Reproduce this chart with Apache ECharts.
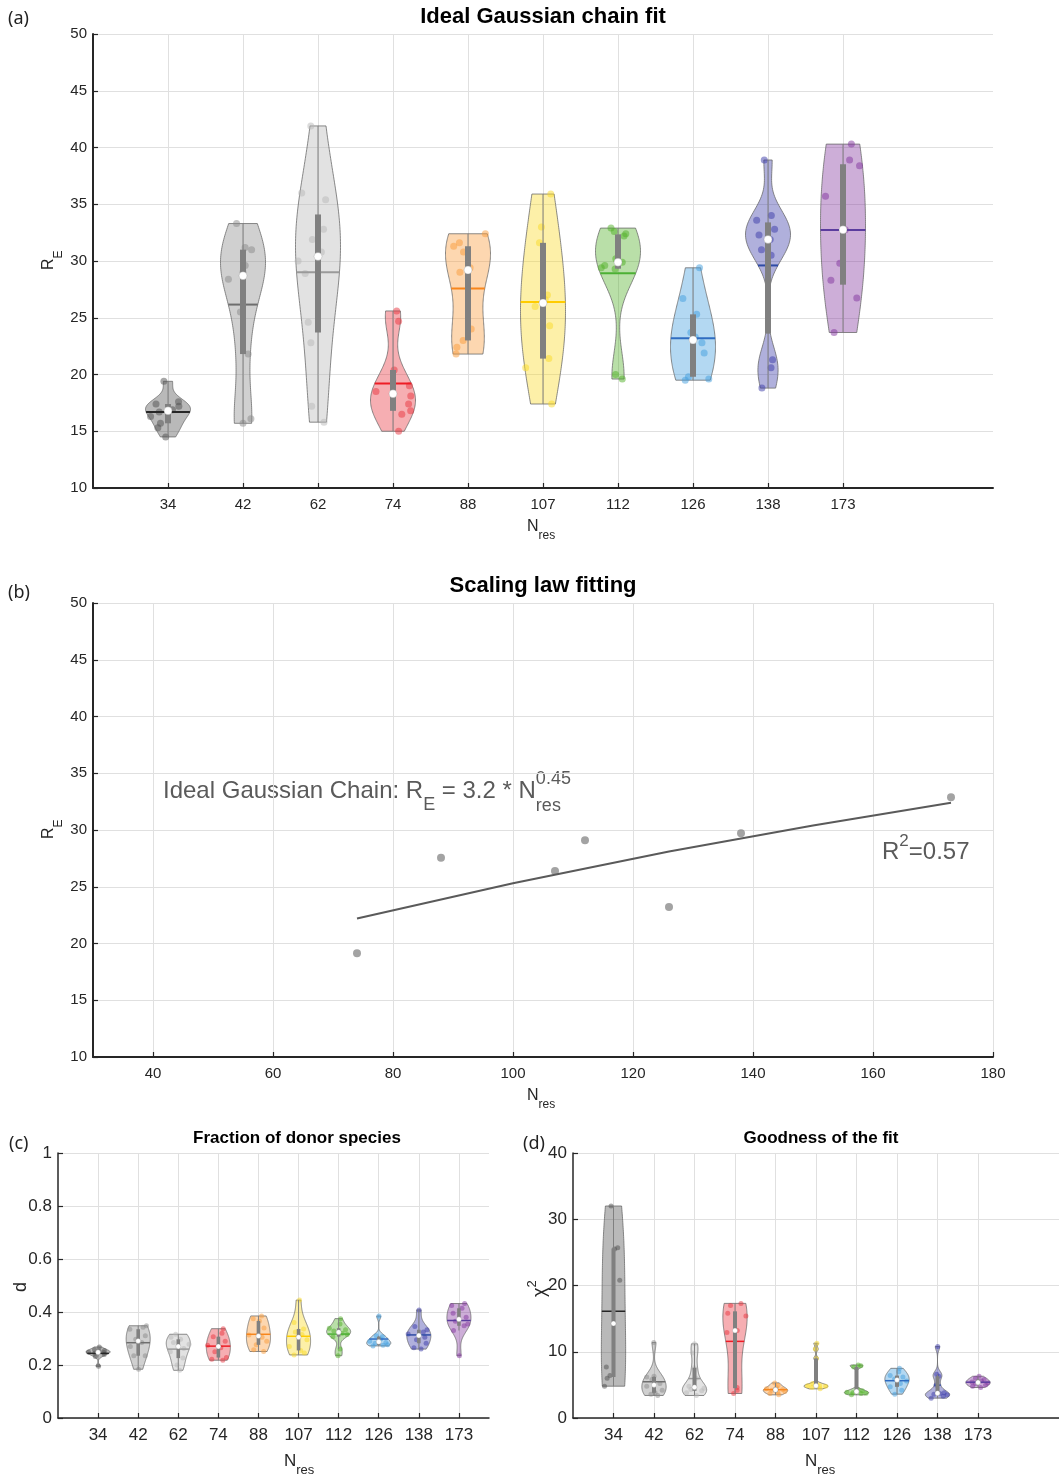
<!DOCTYPE html>
<html>
<head>
<meta charset="utf-8">
<script src="https://cdn.jsdelivr.net/npm/echarts@6/dist/echarts.min.js"></script>
<style>
  html, body { margin: 0; padding: 0; background: #fff; }
  #chart { width: 1059px; height: 1478px; }
</style>
</head>
<body>
<div id="chart"></div>
<script>
const categories = ['34', '42', '62', '74', '88', '107', '112', '126', '138', '173'];
const baseColors = ['#505050', '#8a8a8a', '#b7b7b7', '#e8343e', '#fa9b39', '#fad925', '#50af25', '#419dde', '#3939a7', '#82349d'];
const meanColors = ['#262626', '#6e6e6e', '#9a9a9a', '#ee1c25', '#f7861c', '#ffcc00', '#4cb034', '#2f6cc0', '#2e4ba5', '#5b3c9e'];

// (a) end-to-end distance R_E per N_res
const reData = [
  [14.5, 15.3, 15.7, 16.3, 16.7, 16.9, 17.2, 17.4, 17.6, 19.4],
  [15.7, 16.1, 21.8, 25.5, 28.4, 29.0, 29.6, 31.0, 31.2, 33.3],
  [15.8, 17.2, 22.8, 24.6, 28.9, 30.0, 30.8, 31.9, 32.8, 35.4, 36.0, 41.9],
  [15.0, 16.5, 16.8, 17.4, 18.1, 18.5, 19.0, 20.4, 24.7, 25.6],
  [21.8, 22.4, 23.0, 24.0, 29.0, 29.4, 30.8, 31.3, 31.6, 32.4],
  [17.4, 20.6, 21.4, 24.3, 26.0, 26.6, 27.0, 31.6, 33.0, 35.9],
  [19.6, 20.0, 29.3, 29.4, 29.6, 29.9, 30.2, 32.2, 32.4, 32.6, 32.9],
  [19.5, 19.6, 19.8, 21.9, 22.8, 23.3, 23.7, 25.3, 26.7, 29.4],
  [18.8, 20.6, 21.3, 30.5, 31.0, 31.9, 32.3, 32.8, 33.6, 34.0, 38.9],
  [23.7, 26.75, 28.3, 29.8, 32.75, 35.7, 38.4, 38.9, 40.3]
];
const reJitter = [
  [-0.3, -0.8, -0.5, -0.9, -0.4, 0.2, 0.5, -0.6, 0.6, -0.9],
  [0.0, 0.9, 0.7, -0.2, -0.7, 0.0, 0.1, 0.4, 0.1, -0.45],
  [0.7, -0.65, -0.5, -0.6, -0.6, -0.9, 0.15, -0.25, 0.25, 0.4, -0.9, -0.9],
  [0.5, 0.45, 0.85, 0.7, 0.8, -0.8, 0.85, 0.1, 0.75, 0.5],
  [-0.8, -0.7, -0.3, 0.2, -0.4, 0.1, -0.2, -0.65, -0.4, 0.9],
  [0.7, -0.95, 0.3, 0.3, -0.35, 0.1, 0.2, -0.2, -0.1, 0.7],
  [0.7, -0.4, -0.15, -0.85, -0.65, 0.2, -0.1, 0.3, 0.4, -0.2, -0.4],
  [-0.45, 0.9, -0.25, 0.5, 0.4, 0.1, -0.1, 0.2, -0.7, 0.85],
  [-0.8, 0.3, 0.5, 0.2, -0.35, 0.1, -0.4, 0.3, -0.6, 0.2, -0.9],
  [-0.65, 0.75, -0.6, -0.15, 0.1, -0.8, 0.85, 0.35, 0.5]
];

// (b) scaling law: mean R_E and fitted curve
const fitN = [74, 88, 107, 112, 126, 138, 173];
const fitRE = [19.14, 27.56, 26.39, 29.09, 23.22, 29.71, 32.88];
const lawN = [74, 100, 126, 150, 173];
const lawRE = [22.2, 25.3, 28.1, 30.4, 32.4];
const xTicksB = [40, 60, 80, 100, 120, 140, 160, 180];

// (c) fraction of donor species d
const dData = [
  [0.195, 0.232, 0.240, 0.244, 0.247, 0.249, 0.252, 0.255, 0.258, 0.268],
  [0.184, 0.235, 0.235, 0.27, 0.285, 0.297, 0.31, 0.335, 0.342, 0.348],
  [0.18, 0.20, 0.226, 0.25, 0.262, 0.278, 0.285, 0.297, 0.305, 0.316],
  [0.218, 0.222, 0.228, 0.25, 0.265, 0.275, 0.29, 0.307, 0.32, 0.337],
  [0.251, 0.258, 0.276, 0.29, 0.305, 0.313, 0.34, 0.366, 0.375, 0.385],
  [0.238, 0.245, 0.255, 0.27, 0.295, 0.315, 0.325, 0.336, 0.36, 0.445],
  [0.235, 0.26, 0.307, 0.315, 0.32, 0.328, 0.333, 0.339, 0.355, 0.375],
  [0.272, 0.275, 0.276, 0.282, 0.285, 0.29, 0.298, 0.307, 0.31, 0.385],
  [0.26, 0.265, 0.282, 0.295, 0.305, 0.317, 0.325, 0.333, 0.345, 0.408],
  [0.235, 0.33, 0.348, 0.355, 0.365, 0.38, 0.395, 0.414, 0.425, 0.432]
];
const dJitter = [
  [0.2, -0.6, 0.7, -0.3, 0.5, -0.8, 0.1, 0.6, -0.4, 0.3],
  [0.1, -0.5, 0.8, -0.7, 0.3, -0.2, 0.6, -0.8, 0.5, 0.9],
  [0.3, -0.2, 0.6, -0.8, 0.5, 0.9, -0.4, 0.2, -0.7, -0.3],
  [0.5, -0.7, 0.8, -0.3, 0.2, -0.9, 0.6, -0.5, 0.4, 0.7],
  [0.6, -0.5, -0.2, 0.7, 0.3, -0.8, 0.5, 0.1, -0.6, 0.4],
  [-0.5, 0.6, 0.2, -0.8, 0.7, 0.3, -0.3, 0.5, -0.6, 0.4],
  [-0.2, 0.5, -0.7, 0.8, 0.3, -0.4, 0.6, -0.9, 0.2, 0.5],
  [-0.6, 0.4, 0.8, -0.3, 0.6, -0.8, 0.2, 0.5, -0.4, 0.1],
  [0.3, -0.6, 0.7, -0.2, 0.5, -0.9, 0.4, 0.8, -0.5, 0.1],
  [0.2, -0.7, 0.5, 0.8, -0.3, 0.6, -0.5, 0.3, -0.8, 0.7]
];

// (d) goodness of the fit chi^2
const chiData = [
  [4.8, 6.0, 6.4, 7.7, 20.8, 25.5, 25.7, 32.0],
  [3.4, 3.6, 3.8, 4.2, 4.8, 5.2, 5.8, 6.2, 6.3, 11.4],
  [3.4, 3.8, 4.1, 4.3, 4.5, 4.8, 6.0, 7.6, 9.8, 11.2],
  [3.7, 4.2, 4.6, 12.9, 13.2, 15.4, 15.8, 17.0, 17.3],
  [3.5, 3.7, 3.9, 4.0, 4.2, 4.3, 4.4, 4.6, 4.9, 5.3],
  [4.4, 4.6, 4.8, 4.85, 4.85, 4.9, 5.2, 9.0, 10.4, 11.3],
  [3.5, 3.7, 3.75, 3.8, 3.9, 4.1, 4.3, 7.7, 7.9, 8.0],
  [3.6, 4.2, 4.7, 5.2, 5.6, 5.9, 6.2, 6.4, 7.0, 7.5],
  [3.0, 3.3, 3.5, 3.6, 3.7, 3.8, 5.0, 6.3, 6.6, 10.8],
  [4.6, 4.8, 5.0, 5.2, 5.3, 5.45, 5.6, 5.8, 6.0, 6.3]
];
const chiJitter = [
  [-0.8, -0.55, -0.3, -0.6, 0.55, 0.1, 0.4, -0.3],
  [0.4, -0.3, 0.1, 0.7, -0.6, 0.5, -0.2, -0.8, 0.0, -0.1],
  [0.2, -0.7, 0.6, -0.3, 0.8, -0.5, 0.3, -0.1, -0.6, 0.0],
  [-0.2, 0.3, 0.3, -0.75, 0.2, 0.9, -0.6, -0.4, 0.55],
  [0.5, -0.6, 0.2, 0.8, -0.3, 0.6, -0.8, 0.1, 0.4, -0.2],
  [0.6, -0.4, 0.8, -0.7, 0.3, 0.1, -0.5, 0.2, -0.3, 0.4],
  [-0.6, 0.4, 0.8, -0.3, -0.8, 0.6, 0.2, -0.5, 0.7, 0.3],
  [-0.4, 0.6, -0.7, 0.3, 0.8, -0.2, 0.5, -0.6, 0.2, 0.4],
  [-0.7, 0.5, 0.8, -0.3, 0.2, 0.6, -0.4, 0.3, -0.2, 0.1],
  [0.4, -0.6, 0.7, -0.2, 0.8, -0.5, 0.3, 0.6, -0.3, 0.2]
];

const FONT = '"Liberation Sans", Arial, sans-serif';
const INK = '#262626';

function rgba(hex, a) {
  const n = parseInt(hex.slice(1), 16);
  return `rgba(${(n >> 16) & 255},${(n >> 8) & 255},${n & 255},${a})`;
}

// matlab-style quantile (midpoint rule)
function quantile(s, p) {
  const n = s.length;
  const pos = p * n + 0.5;
  if (pos <= 1) return s[0];
  if (pos >= n) return s[n - 1];
  const i = Math.floor(pos);
  return s[i - 1] + (pos - i) * (s[i] - s[i - 1]);
}

// kernel density like ksdensity defaults, clipped to data range
function violinStats(vals) {
  const s = vals.slice().sort((a, b) => a - b);
  const n = s.length;
  const med = quantile(s, 0.5);
  const mad = quantile(s.map(v => Math.abs(v - med)).sort((a, b) => a - b), 0.5);
  let sig = mad / 0.6745;
  if (sig <= 0) sig = s[n - 1] - s[0];
  const bw = sig * Math.pow(4 / (3 * n), 0.2);
  const lo = s[0], hi = s[n - 1];
  const ys = [], ds = [];
  for (let k = 0; k <= 100; k++) {
    const y = lo + (hi - lo) * k / 100;
    let d = 0;
    s.forEach(v => { const z = (y - v) / bw; d += Math.exp(-0.5 * z * z); });
    ys.push(y); ds.push(d);
  }
  const dmax = Math.max(...ds);
  const w = ds.map(d => d / dmax);
  const at = y => {
    if (y <= lo) return w[0];
    if (y >= hi) return w[100];
    const t = (y - lo) / (hi - lo) * 100;
    const k = Math.floor(t);
    return w[k] + (t - k) * (w[k + 1] - w[k]);
  };
  const q1 = quantile(s, 0.25), q3 = quantile(s, 0.75);
  const iqr = q3 - q1;
  let lw = q1 - 1.5 * iqr; lw = Math.max(lw, Math.min(...s.filter(v => v >= lw)));
  let uw = q3 + 1.5 * iqr; uw = Math.min(uw, Math.max(...s.filter(v => v <= uw)));
  const mean = s.reduce((a, b) => a + b, 0) / n;
  return { s, ys, w, at, med, q1, q3, lw, uw, mean };
}

function violinSeries(sets, jitters, axisIndex, opt) {
  const stats = sets.map(violinStats);
  return {
    type: 'custom',
    xAxisIndex: axisIndex,
    yAxisIndex: axisIndex,
    data: categories.map((c, i) => [i + 1, stats[i].mean]),
    encode: { x: 0, y: 1 },
    silent: true,
    renderItem: (params, api) => {
      const i = params.dataIndex;
      const st = stats[i];
      const pos = i + 1;
      const P = (x, y) => api.coord([x, y]);
      const right = st.ys.map((y, k) => P(pos + 0.3 * st.w[k], y));
      const left = st.ys.map((y, k) => P(pos - 0.3 * st.w[k], y)).reverse();
      const children = [];
      children.push({
        type: 'polygon',
        shape: { points: right.concat(left) },
        style: { fill: rgba(baseColors[i], 0.4), stroke: 'rgba(100,100,100,0.75)', lineWidth: 1 }
      });
      st.s.forEach((v, k) => {
        const c = P(pos + jitters[i][k] * 0.3 * st.at(v), v);
        children.push({
          type: 'circle',
          shape: { cx: c[0], cy: c[1], r: opt.r },
          style: { fill: rgba(baseColors[i], 0.5) }
        });
      });
      const mw = 0.3 * st.at(st.mean);
      const m1 = P(pos - mw, st.mean), m2 = P(pos + mw, st.mean);
      children.push({
        type: 'line',
        shape: { x1: m1[0], y1: m1[1], x2: m2[0], y2: m2[1] },
        style: { stroke: meanColors[i], lineWidth: opt.meanW }
      });
      const w1 = P(pos, st.lw), w2 = P(pos, st.uw);
      children.push({
        type: 'line',
        shape: { x1: w1[0], y1: w1[1], x2: w2[0], y2: w2[1] },
        style: { stroke: '#808080', lineWidth: 1 }
      });
      const b1 = P(pos - opt.box, st.q3), b2 = P(pos + opt.box, st.q1);
      children.push({
        type: 'rect',
        shape: { x: b1[0], y: b1[1], width: b2[0] - b1[0], height: b2[1] - b1[1] },
        style: { fill: '#808080' }
      });
      const md = P(pos, st.med);
      children.push({
        type: 'circle',
        shape: { cx: md[0], cy: md[1], r: opt.medR },
        style: { fill: '#ffffff', stroke: 'rgba(128,128,128,0.6)', lineWidth: 0.5 }
      });
      return { type: 'group', children };
    }
  };
}

// text runs with sub/superscripts
const mctx = document.createElement('canvas').getContext('2d');
function tw(text, font) { mctx.font = font; return mctx.measureText(text).width; }
function runs(x, y, parts, rotation, color) {
  let cx = 0, lastStart = 0;
  const children = [];
  parts.forEach(p => {
    const font = `${p.size}px ${FONT}`;
    const start = p.stack ? lastStart : cx;
    children.push({
      type: 'text', x: start, y: p.dy || 0,
      style: {
        text: p.t, font, fill: color || INK,
        textAlign: 'left', textVerticalAlign: 'middle', align: 'left', verticalAlign: 'middle'
      }
    });
    lastStart = start;
    cx = Math.max(cx, start + tw(p.t, font));
  });
  return { type: 'group', x, y, rotation: rotation || 0, children };
}
function label(x, y, text, font, align, color) {
  return {
    type: 'text', x, y,
    style: {
      text, font, fill: color || INK,
      textAlign: align || 'center', align: align || 'center',
      textVerticalAlign: 'middle', verticalAlign: 'middle'
    }
  };
}

function xAxisCat(gi, max, fs, lw) {
  const pos = categories.map((c, i) => i + 1);
  return {
    type: 'value', gridIndex: gi, min: 0, max,
    axisLine: { show: true, lineStyle: { color: INK, width: lw } },
    axisTick: { show: true, inside: true, length: 5, customValues: pos, lineStyle: { color: INK, width: 1.2 } },
    axisLabel: { customValues: pos, formatter: v => categories[Math.round(v) - 1] || '', color: INK, fontSize: fs, fontFamily: FONT, margin: 9 },
    splitLine: { show: true, lineStyle: { color: '#e0e0e0', width: 1 } }
  };
}
function yAxisVal(gi, min, max, interval, fs, lw, fmt) {
  return {
    type: 'value', gridIndex: gi, min, max, interval,
    axisLine: { show: true, lineStyle: { color: INK, width: lw } },
    axisTick: { show: true, inside: true, length: 5, lineStyle: { color: INK, width: 1.2 } },
    axisLabel: { color: INK, fontSize: fs, fontFamily: FONT, margin: 6, formatter: fmt },
    splitLine: { show: true, lineStyle: { color: '#e0e0e0', width: 1 } }
  };
}

const chart = echarts.init(document.getElementById('chart'), null, { renderer: 'canvas' });

const option = {
  backgroundColor: '#ffffff',
  animation: false,
  grid: [
    { left: 93, top: 34, width: 900, height: 454 },
    { left: 93, top: 603, width: 900, height: 454 },
    { left: 58, top: 1153, width: 431, height: 265 },
    { left: 573, top: 1153, width: 496, height: 265 }
  ],
  xAxis: [
    xAxisCat(0, 12, 15, 2),
    {
      type: 'value', gridIndex: 1, min: 30, max: 180,
      axisLine: { show: true, lineStyle: { color: INK, width: 2 } },
      axisTick: { show: true, inside: true, length: 5, customValues: xTicksB, lineStyle: { color: INK, width: 1.2 } },
      axisLabel: { customValues: xTicksB, color: INK, fontSize: 15, fontFamily: FONT, margin: 9 },
      splitLine: { show: true, lineStyle: { color: '#e0e0e0', width: 1 } }
    },
    xAxisCat(2, 10.75, 17, 1.5),
    xAxisCat(3, 12, 17, 1.5)
  ],
  yAxis: [
    yAxisVal(0, 10, 50, 5, 15, 2),
    yAxisVal(1, 10, 50, 5, 15, 2),
    yAxisVal(2, 0, 1, 0.2, 17, 1.5, v => String(+v.toFixed(1))),
    yAxisVal(3, 0, 40, 10, 17, 1.5)
  ],
  series: [
    violinSeries(reData, reJitter, 0, { r: 3.5, meanW: 2, box: 0.04, medR: 4 }),
    {
      type: 'line', xAxisIndex: 1, yAxisIndex: 1,
      data: lawN.map((n, i) => [n, lawRE[i]]),
      showSymbol: false, silent: true,
      lineStyle: { color: '#5a5a5a', width: 2 }
    },
    {
      type: 'scatter', xAxisIndex: 1, yAxisIndex: 1,
      data: fitN.map((n, i) => [n, fitRE[i]]),
      symbolSize: 8, silent: true,
      itemStyle: { color: '#8c8c8c' }
    },
    violinSeries(dData, dJitter, 2, { r: 2.5, meanW: 1.5, box: 0.045, medR: 2.5 }),
    violinSeries(chiData, chiJitter, 3, { r: 2.5, meanW: 1.5, box: 0.05, medR: 2.5 })
  ],
  graphic: [
    label(543, 17, 'Ideal Gaussian chain fit', `bold 22px ${FONT}`, 'center', '#000'),
    label(543, 586, 'Scaling law fitting', `bold 22px ${FONT}`, 'center', '#000'),
    label(297, 1138, 'Fraction of donor species', `bold 17px ${FONT}`, 'center', '#000'),
    label(821, 1138, 'Goodness of the fit', `bold 17px ${FONT}`, 'center', '#000'),
    label(8, 19, '(a)', '18px "Noto Sans", sans-serif', 'left', '#222'),
    label(8, 593, '(b)', '18px "Noto Sans", sans-serif', 'left', '#222'),
    label(9, 1144, '(c)', '18px "Noto Sans", sans-serif', 'left', '#222'),
    label(523, 1144, '(d)', '18px "Noto Sans", sans-serif', 'left', '#222'),
    runs(527, 527, [{ t: 'N', size: 16 }, { t: 'res', size: 12, dy: 9 }]),
    runs(527, 1096, [{ t: 'N', size: 16 }, { t: 'res', size: 12, dy: 9 }]),
    runs(49, 270, [{ t: 'R', size: 16 }, { t: 'E', size: 12, dy: 10 }], Math.PI / 2),
    runs(49, 839, [{ t: 'R', size: 16 }, { t: 'E', size: 12, dy: 10 }], Math.PI / 2),
    runs(284, 1461, [{ t: 'N', size: 17 }, { t: 'res', size: 13, dy: 9 }]),
    runs(805, 1461, [{ t: 'N', size: 17 }, { t: 'res', size: 13, dy: 9 }]),
    runs(21, 1292, [{ t: 'd', size: 18 }], Math.PI / 2),
    runs(540, 1297, [{ t: 'χ', size: 18 }, { t: '2', size: 13, dy: -8 }], Math.PI / 2),
    runs(163, 791, [
      { t: 'Ideal Gaussian Chain: R', size: 24 },
      { t: 'E', size: 18, dy: 14 },
      { t: ' = 3.2 * N', size: 24 },
      { t: 'res', size: 18, dy: 15 },
      { t: '0.45', size: 18, dy: -12, stack: true }
    ], 0, '#5a5a5a'),
    runs(882, 852, [
      { t: 'R', size: 24 },
      { t: '2', size: 17, dy: -11 },
      { t: '=0.57', size: 24 }
    ], 0, '#5a5a5a')
  ]
};

chart.setOption(option);
</script>
</body>
</html>
